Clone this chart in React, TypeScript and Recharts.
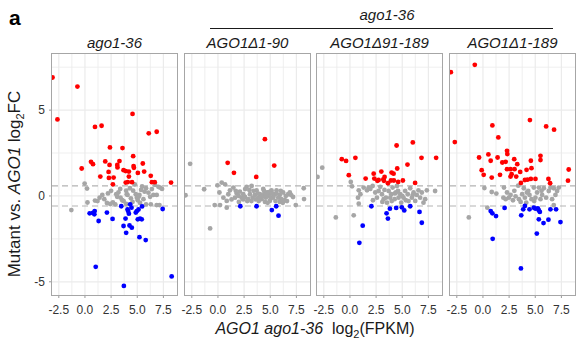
import React from 'react';
import { ScatterChart, Scatter, XAxis, YAxis, ReferenceLine } from 'recharts';

// panel titles
const panelTitles = ['ago1-36', 'AGO1\u03941-90', 'AGO1\u039491-189', 'AGO1\u03941-189'];
const xTicks = [-2.5, 0, 2.5, 5, 7.5];
const yTicks = [-5, 0, 5];
const xGrid = [-2.5, -1.25, 0, 1.25, 2.5, 3.75, 5, 6.25, 7.5];
const yGrid = [-5, -2.5, 0, 2.5, 5, 7.5];
const fcCut = 0.585;

// [log2 FPKM, log2 FC]
const p1Up = [
  [-3.1, 6.9], [-0.72, 6.37], [-2.63, 4.46], [4.55, 4.78], [0.96, 4.02], [1.59, 4.09], [6.1, 3.65], [6.86, 3.74],
  [2.39, 2.83], [3.59, 2.79], [4.61, 2.32], [0.58, 1.99], [0.77, 1.85], [1.94, 2.01], [3.3, 2.03], [2.35, 1.81],
  [3.09, 1.81], [3.11, 1.66], [4.65, 1.74], [4.68, 1.64], [5.53, 1.89], [-0.31, 1.6], [2.26, 1.4], [3.69, 1.5],
  [3.9, 1.45], [4.2, 1.42], [5.06, 1.34], [5.66, 1.42], [1.47, 1.13], [2.29, 1.05], [2.74, 1.07], [4.2, 1.13],
  [6.29, 1.17], [2.67, 0.68], [3.9, 0.78], [4.1, 0.81], [4.5, 0.8], [6.4, 0.8], [6.67, 0.8], [8.23, 0.78],
];
const p1Down = [
  [0.45, -1.01], [0.77, -0.99], [0.93, -0.88], [0.9, -1.07], [1.31, -1.46], [2.1, -0.97], [2.64, -1.34],
  [3.47, -0.6], [4.07, -0.79], [4.2, -1.03], [4.13, -0.88], [4.45, -0.68], [4.32, -0.49], [3.69, -1.75],
  [3.88, -1.32], [3.94, -2.15], [4.26, -1.72], [4.48, -1.85], [4.96, -0.88], [5.12, -0.79], [4.86, -0.97],
  [5.05, -1.36], [5.27, -1.32], [5.43, -1.36], [5.46, -0.61], [5.21, -2.4], [5.81, -2.57], [7.43, -0.76],
  [1.03, -4.13], [3.72, -5.24], [8.29, -4.69],
];
const p1Flat = [
  [-1.3, -0.82], [-0.03, 0.72], [0.2, 0.43], [0.24, -0.38], [0.96, -0.27], [1.4, -0.1], [1.66, 0.06], [1.85, -0.19],
  [2.1, -0.41], [2.42, -0.47], [2.67, -0.37], [2.99, 0.1], [3.08, -0.05], [3.37, 0.41], [3.4, -0.1], [3.56, -0.25],
  [3.94, 0.31], [4.07, 0.06], [4.39, -0.14], [4.61, 0.31], [4.77, 0.68], [4.86, 0.1], [4.96, -0.1], [5.05, -0.25],
  [5.21, 0.06], [5.37, 0.35], [5.46, 0.55], [5.59, -0.19], [5.84, 0.45], [6.07, 0.19], [6.23, -0.05], [6.54, 0.06],
  [6.7, 0.64], [6.86, 0.06], [7.02, 0.53], [7.18, 0.49], [7.37, 0.41], [6.3, -0.49], [6.86, -0.53], [7.12, -0.53],
  [5.84, -0.49], [5.27, -0.41], [5.14, -0.05], [3.94, -0.47], [2.9, -0.49], [3.2, 0.2], [4.3, 0.45], [2.2, 0.15],
  [1.2, -0.3], [3.7, -0.3], [4.55, -0.35], [5.7, 0.25], [6.4, 0.4], [2.5, 0.3], [4.0, 0.1],
];

const p2Up = [[4.49, 3.31], [0.93, 1.93], [1.53, 1.35], [5.38, 1.77], [3.66, 1.11]];
const p2Down = [[2.14, -0.6], [3.69, -0.6], [5.15, -0.82], [5.57, -0.6], [5.79, -1.15]];
const p2Flat = [
  [-2.66, 1.87], [-0.75, -1.89], [-3.1, 0.04], [-1.32, 0.39], [-0.31, -0.53], [0.2, -0.53], [-0.05, 0.62],
  [0.36, 0.78], [0.68, 0.68], [0.14, 0.2], [0.52, -0.1], [0.84, -0.29], [0.84, -0.68], [0.99, 0.1], [1.15, 0.33],
  [1.47, 0.49], [1.63, -0.1], [1.79, 0.14], [1.98, 0.0], [2.26, -0.1], [2.42, 0.1], [2.58, -0.06], [2.74, 0.53],
  [2.9, -0.19], [3.06, 0.1], [3.22, 0.58], [3.31, -0.1], [3.53, 0.06], [3.69, 0.33], [3.85, -0.1], [4.01, 0.1],
  [4.17, -0.19], [4.33, 0.41], [4.42, 0.1], [4.58, -0.1], [4.71, 0.2], [4.9, 0.0], [4.96, -0.29], [5.12, 0.33],
  [5.28, -0.1], [5.44, 0.1], [5.6, 0.33], [5.76, -0.1], [5.91, 0.06], [6.07, -0.19], [6.23, 0.2], [6.49, 0.0],
  [6.71, 0.1], [6.87, 0.2], [7.18, -0.06], [7.44, -0.53], [8.2, 0.45], [8.23, -0.18], [1.3, -0.2], [2.1, 0.25],
  [2.8, -0.3], [3.4, 0.3], [3.9, -0.3], [4.5, -0.35], [5.0, 0.25], [5.5, -0.3], [6.0, 0.3], [6.4, -0.25],
  [2.0, -0.35], [3.0, 0.35], [4.2, -0.05], [4.8, 0.2], [5.3, 0.0], [5.9, -0.35], [1.7, 0.3], [7.0, 0.05],
  [3.6, -0.2], [4.6, 0.05], [5.2, 0.15], [2.4, -0.2], [6.6, -0.3], [3.2, -0.3], [4.4, 0.3], [5.6, 0.15],
  [6.2, -0.4], [2.6, 0.4], [4.75, -0.4], [3.8, 0.15], [5.05, -0.15],
];

const p3Up = [
  [4.46, 2.94], [6.01, 3.12], [-0.78, 2.14], [-0.37, 2.04], [0.52, 2.22], [6.84, 2.22], [8.24, 2.22],
  [-0.11, 1.21], [1.5, 1.01], [2.27, 1.3], [2.33, 1.01], [3.0, 1.42], [2.62, 0.88], [2.74, 0.93], [3.19, 0.97],
  [3.31, 1.11], [3.25, 0.88], [3.98, 1.36], [4.17, 1.3], [4.52, 1.6], [3.92, 0.9], [4.2, 0.9], [4.61, 0.82],
  [5.06, 0.9], [3.63, 0.74], [5.5, 1.83], [6.23, 0.76],
];
const p3Down = [
  [2.05, -0.6], [3.82, -0.74], [4.42, -0.7], [4.96, -0.66], [5.76, -0.6], [3.5, -1.01], [3.63, -1.32],
  [5.19, -0.84], [6.65, -0.93], [6.87, -1.56], [1.22, -1.73], [0.9, -2.73],
];
const p3Flat = [
  [-2.65, 1.65], [-3.1, 1.11], [-1.35, -1.25], [0.36, -1.13], [0.08, 0.82], [0.2, 0.56], [0.84, 0.33],
  [0.77, -0.1], [0.84, -0.45], [1.0, 0.1], [1.31, 0.49], [1.63, 0.33], [1.79, 0.49], [1.95, 0.41], [2.17, 0.58],
  [2.42, 0.2], [2.58, -0.1], [2.74, 0.29], [2.9, 0.53], [3.06, 0.1], [3.22, -0.19], [3.44, -0.1], [3.54, -0.39],
  [3.7, 0.29], [3.85, -0.1], [3.95, 0.1], [4.08, 0.49], [4.27, -0.19], [4.39, 0.2], [4.49, 0.58], [4.65, -0.1],
  [4.8, 0.1], [4.9, -0.39], [5.12, -0.1], [5.28, 0.29], [5.34, -0.25], [5.53, 0.1], [5.76, 0.45], [5.92, -0.1],
  [6.08, 0.2], [6.24, -0.29], [6.39, 0.06], [6.55, 0.33], [6.71, -0.1], [6.87, 0.2], [7.03, -0.39], [7.19, -0.19],
  [7.35, 0.33], [8.14, 0.29], [3.3, 0.35], [4.0, -0.3], [4.6, 0.3], [5.0, 0.0], [5.6, -0.3], [3.1, -0.35],
  [2.2, -0.25], [6.0, 0.05], [4.3, 0.15],
];

const p4Up = [
  [-3.07, 7.21], [-0.78, 7.64], [-2.69, 3.14], [0.9, 4.11], [4.49, 4.42], [6.04, 4.05], [6.8, 3.86], [1.47, 3.41],
  [2.3, 2.63], [2.33, 2.44], [-0.37, 2.24], [0.52, 2.42], [0.74, 2.05], [1.4, 2.24], [1.85, 1.95], [2.17, 1.99],
  [2.99, 2.14], [3.28, 1.85], [4.58, 2.05], [5.5, 2.34], [5.5, 2.09], [-0.12, 1.5], [0.07, 1.23], [0.84, 1.07],
  [1.63, 1.23], [2.3, 1.56], [2.64, 1.56], [3.02, 1.56], [2.74, 1.27], [2.64, 1.13], [3.18, 1.13], [3.56, 1.4],
  [4.17, 1.52], [4.64, 1.62], [3.63, 0.76], [4.01, 0.93], [4.26, 0.95], [4.58, 0.99], [5.02, 0.99], [6.26, 0.99],
  [6.42, 0.74], [8.2, 1.54], [8.13, 0.89],
];
const p4Down = [
  [0.74, -0.88], [0.9, -1.01], [1.25, -1.17], [2.07, -0.7], [3.66, -1.13], [3.85, -0.78], [4.01, -0.58],
  [4.45, -0.78], [4.86, -0.68], [5.02, -0.74], [5.25, -0.72], [5.34, -0.84], [5.34, -1.36], [5.79, -1.58],
  [6.26, -1.38], [5.44, -0.93], [6.45, -0.78], [6.99, -0.78], [7.41, -1.52], [5.15, -2.19], [0.93, -2.5],
  [3.63, -4.22],
];
const p4Flat = [
  [-1.35, -1.25], [0.14, 0.46], [0.42, -0.68], [0.84, 0.23], [1.28, 0.14], [2.01, 0.49], [1.95, -0.1],
  [2.17, -0.19], [2.48, -0.1], [2.64, 0.06], [2.87, -0.25], [3.12, -0.02], [3.37, 0.6], [3.44, -0.19], [3.75, 0.1],
  [3.91, 0.45], [4.01, -0.1], [4.14, -0.39], [4.33, 0.29], [4.45, 0.06], [4.64, -0.19], [4.86, 0.49], [5.02, -0.1],
  [5.18, 0.2], [5.34, 0.49], [5.5, -0.19], [5.66, 0.06], [5.82, 0.45], [6.04, -0.1], [6.29, 0.29], [6.45, 0.49],
  [6.61, -0.19], [6.77, 0.45], [6.93, 0.06], [7.09, 0.29], [6.77, -0.53], [7.25, 0.49], [3.0, 0.3], [4.2, 0.2],
  [4.9, -0.3], [5.6, 0.3], [3.6, -0.35], [2.3, 0.2],
];

const panels = [
  { flat: p1Flat, up: p1Up, down: p1Down },
  { flat: p2Flat, up: p2Up, down: p2Down },
  { flat: p3Flat, up: p3Up, down: p3Down },
  { flat: p4Flat, up: p4Up, down: p4Down },
];

const X_DOMAIN: [number, number] = [-3.15, 8.8];
const Y_DOMAIN: [number, number] = [-5.77, 8.27];
const PANEL_LEFT = [52, 185, 317, 450];
const PANEL_W = 125;
const PANEL_TOP = 54;
const PANEL_H = 241;
const YAXIS_W = 26;
const XAXIS_H = 26;
const PAD = 14;
const FONT = 'Liberation Sans, Arial, sans-serif';

const toPts = (arr: number[][]) => arr.map(([x, y]) => ({ x, y }));

const dot = (fill: string) => (props: any) => (
  <circle cx={props.cx} cy={props.cy} r={2.4} fill={fill} />
);

const Panel = ({ idx }: { idx: number }) => {
  const p = panels[idx];
  const showY = idx === 0;
  const leftSpace = showY ? YAXIS_W : PAD;
  const w = PANEL_W + leftSpace + PAD;
  return (
    <div style={{ position: 'absolute', left: PANEL_LEFT[idx] - leftSpace, top: PANEL_TOP }}>
      <ScatterChart
        width={w}
        height={PANEL_H + XAXIS_H}
        margin={{ top: 0, right: PAD, bottom: 0, left: showY ? 0 : PAD }}
      >
        <XAxis
          type="number"
          dataKey="x"
          domain={X_DOMAIN}
          ticks={xTicks}
          interval={0}
          allowDataOverflow
          height={XAXIS_H}
          axisLine={false}
          tickSize={3}
          tickMargin={7}
          tickLine={{ stroke: '#999' }}
          tickFormatter={(v: number) => v.toFixed(1)}
          tick={{ fill: '#333', fontSize: 12, fontFamily: FONT }}
        />
        <YAxis
          type="number"
          dataKey="y"
          domain={Y_DOMAIN}
          ticks={yTicks}
          interval={0}
          allowDataOverflow
          hide={!showY}
          width={YAXIS_W}
          axisLine={false}
          tickSize={3}
          tickMargin={4}
          tickLine={{ stroke: '#999' }}
          tick={{ fill: '#333', fontSize: 12, fontFamily: FONT }}
        />
        {xGrid.map((v) => (
          <ReferenceLine key={'gx' + v} x={v} stroke="#ebebeb" strokeWidth={Number.isInteger(v / 2.5) ? 1.2 : 0.8} />
        ))}
        {yGrid.map((v) => (
          <ReferenceLine key={'gy' + v} y={v} stroke="#ebebeb" strokeWidth={v % 5 === 0 ? 1.2 : 0.8} />
        ))}
        <ReferenceLine y={fcCut} stroke="#b3b3b3" strokeWidth={1.2} strokeDasharray="6 4" />
        <ReferenceLine y={-fcCut} stroke="#b3b3b3" strokeWidth={1.2} strokeDasharray="6 4" />
        <Scatter data={toPts(p.flat)} shape={dot('#a6a6a6')} isAnimationActive={false} />
        <Scatter data={toPts(p.up)} shape={dot('#ff0000')} isAnimationActive={false} />
        <Scatter data={toPts(p.down)} shape={dot('#0000ff')} isAnimationActive={false} />
      </ScatterChart>
      {/* panel frame */}
      <div
        style={{
          position: 'absolute',
          left: leftSpace - 1,
          top: -1,
          width: PANEL_W,
          height: PANEL_H,
          border: '1.5px solid #a6a6a6',
          pointerEvents: 'none',
        }}
      />
    </div>
  );
};

export default function App() {
  return (
    <div style={{ position: 'absolute', left: 0, top: 0, width: 576, height: 349, background: '#fff', fontFamily: FONT, overflow: 'hidden' }}>
      {panels.map((_, i) => (
        <Panel key={i} idx={i} />
      ))}
      <svg width={576} height={349} style={{ position: 'absolute', left: 0, top: 0, pointerEvents: 'none' }}>
        <text x={9} y={25} fontSize={21} fontWeight="bold" fill="#000" fontFamily={FONT}>a</text>
        <text x={387} y={20} fontSize={15} fontStyle="italic" textAnchor="middle" fill="#1a1a1a" fontFamily={FONT}>ago1-36</text>
        <line x1={210} y1={28.5} x2={553} y2={28.5} stroke="#1a1a1a" strokeWidth={1} />
        {panelTitles.map((t, i) => (
          <text
            key={t}
            x={PANEL_LEFT[i] + PANEL_W / 2}
            y={48}
            fontSize={15}
            fontStyle="italic"
            textAnchor="middle"
            fill="#1a1a1a"
            fontFamily={FONT}
          >
            {t}
          </text>
        ))}
        <text transform="translate(20,184) rotate(-90)" textAnchor="middle" fontSize={17} fill="#1a1a1a" fontFamily={FONT}>
          <tspan>Mutant vs. </tspan>
          <tspan fontStyle="italic">AGO1</tspan>
          <tspan> log</tspan>
          <tspan fontSize={11} dy={4}>2</tspan>
          <tspan dy={-4}>FC</tspan>
        </text>
        <text x={315} y={334} textAnchor="middle" fontSize={16} fill="#1a1a1a" fontFamily={FONT}>
          <tspan fontStyle="italic">AGO1 ago1-36</tspan>
          <tspan>{'\u00a0 log'}</tspan>
          <tspan fontSize={11} dy={4}>2</tspan>
          <tspan dy={-4}>(FPKM)</tspan>
        </text>
      </svg>
    </div>
  );
}
